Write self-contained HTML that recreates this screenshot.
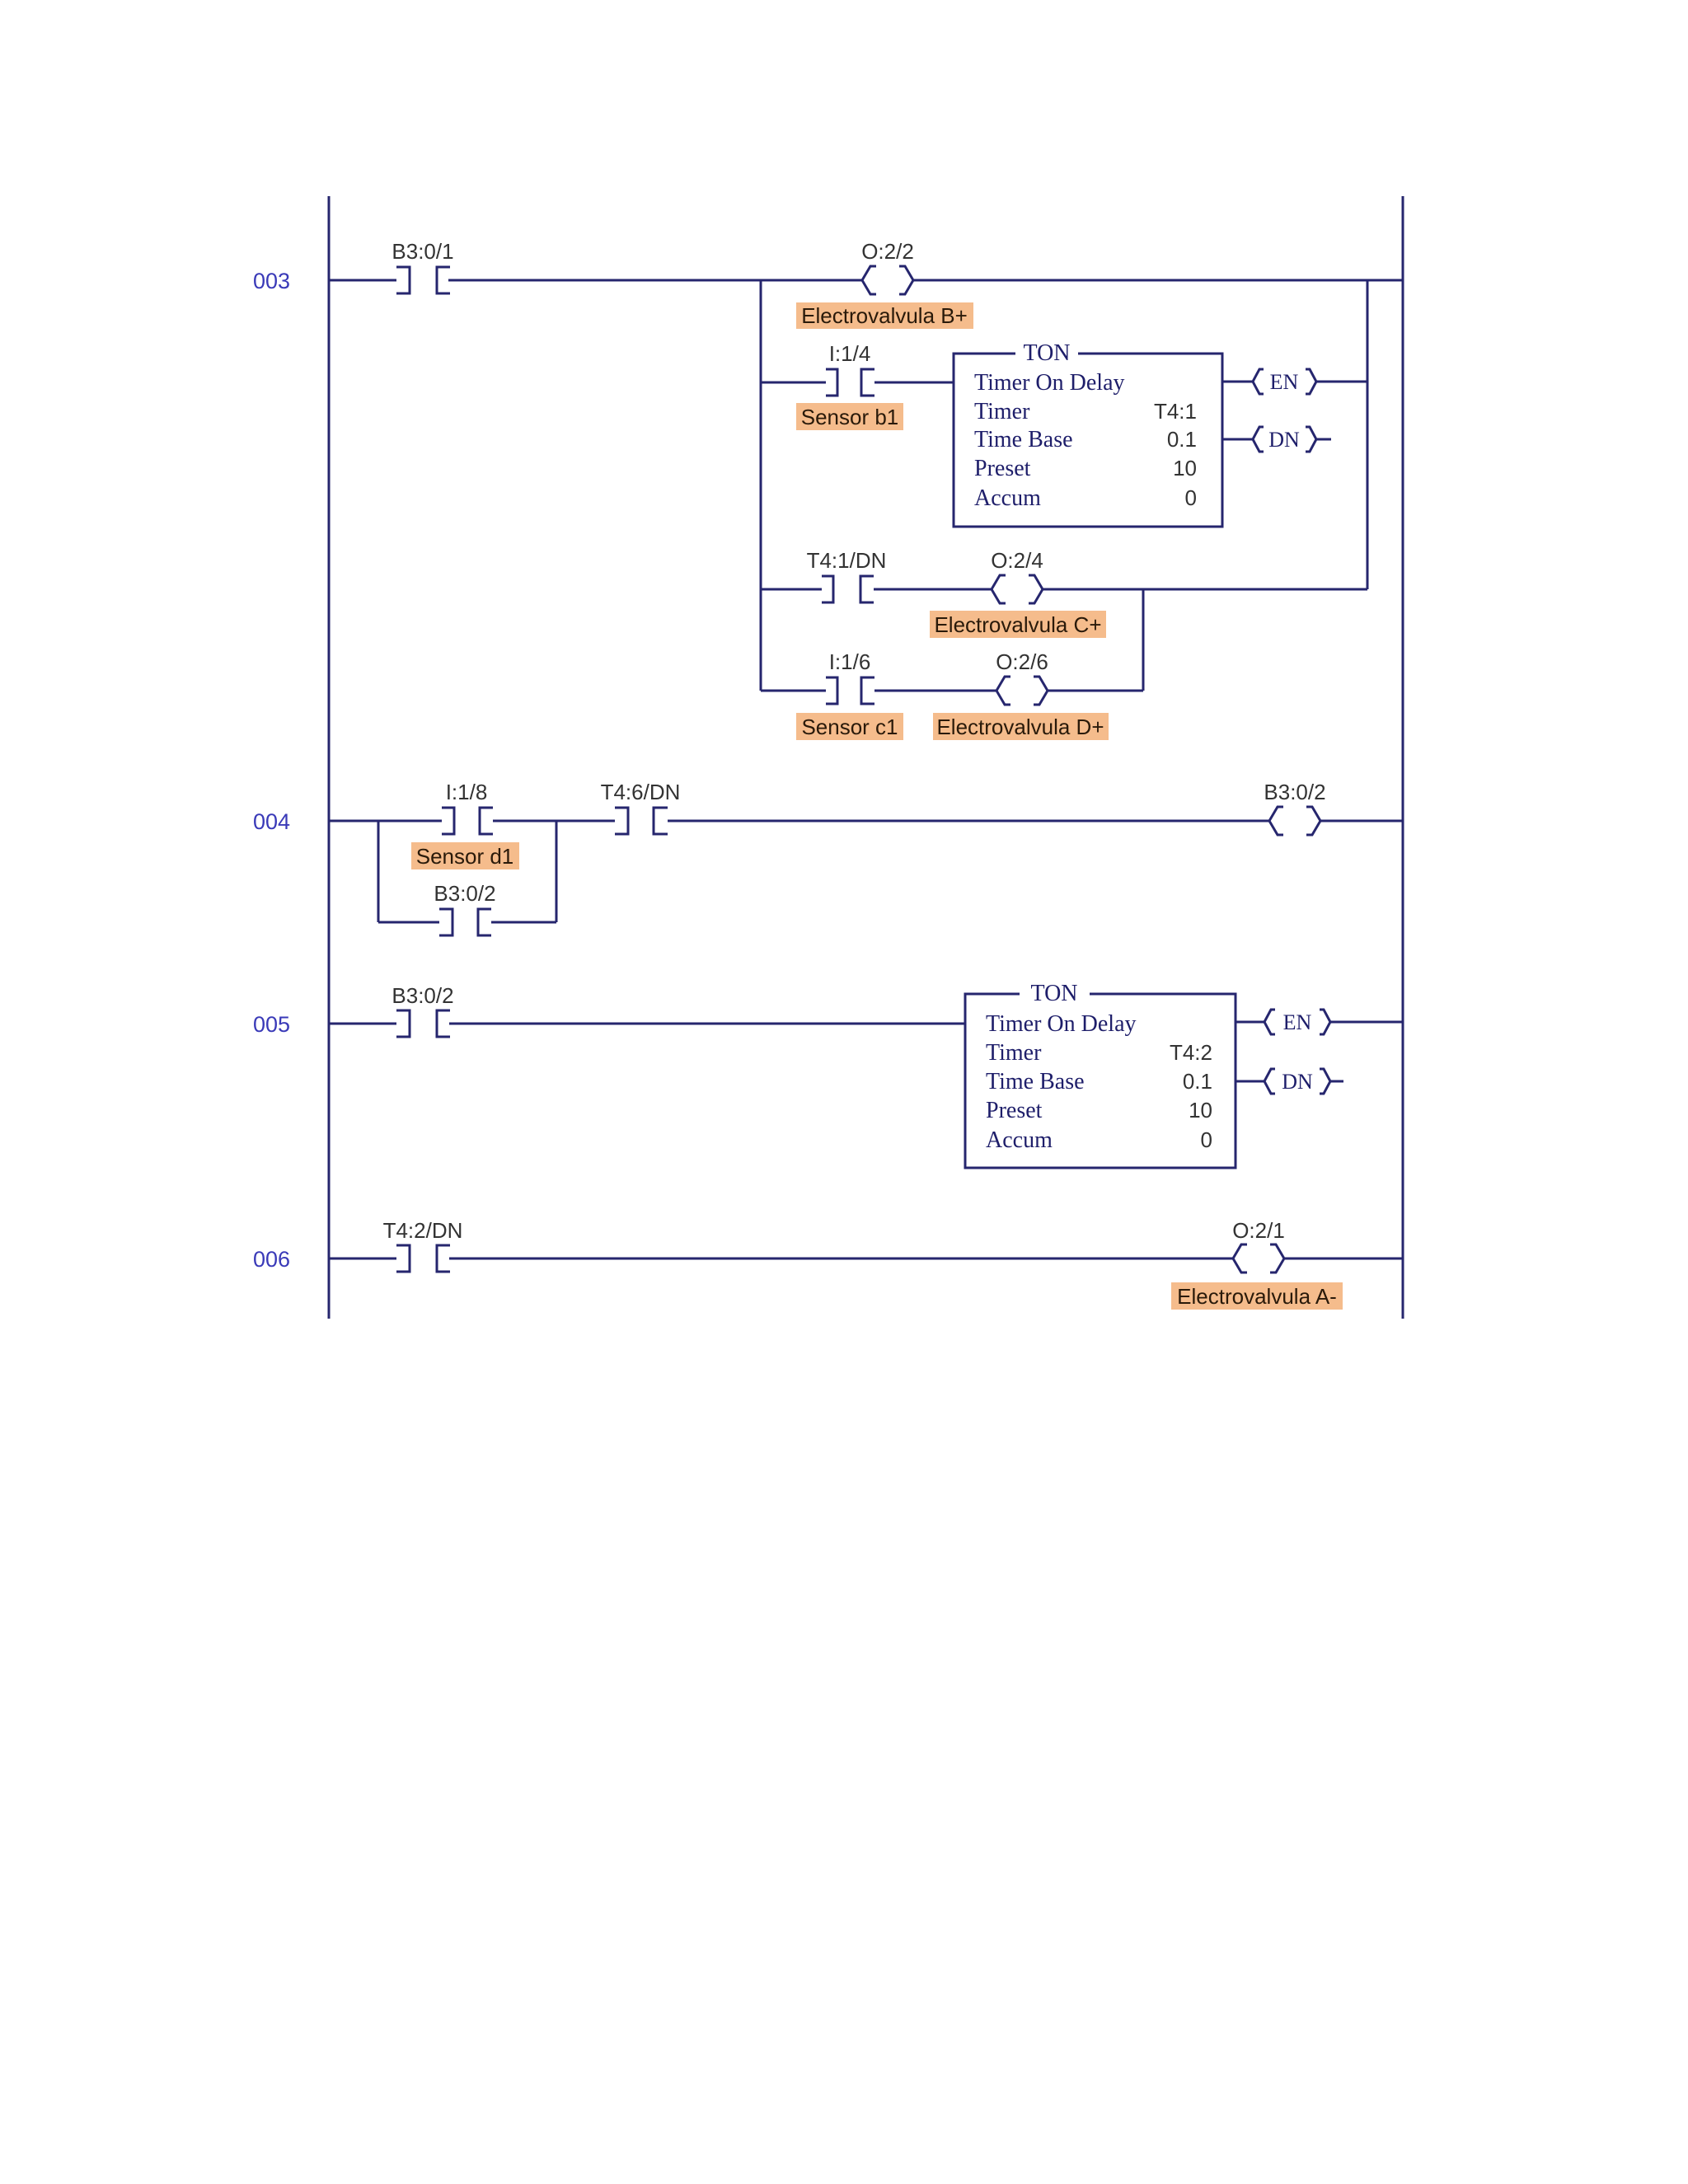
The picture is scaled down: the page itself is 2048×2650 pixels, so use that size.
<!DOCTYPE html>
<html><head><meta charset="utf-8"><style>
html,body{margin:0;padding:0;background:#fff;}
svg{display:block;}
.l{fill:none;stroke:#26266e;stroke-width:3;}
.t{font-family:"Liberation Sans",sans-serif;font-size:26px;fill:#333;text-anchor:middle;}
.n{font-family:"Liberation Sans",sans-serif;font-size:27px;fill:#3a3ab8;}
.s{font-family:"Liberation Serif",serif;font-size:28px;fill:#1e1e6a;}
.v{font-family:"Liberation Sans",sans-serif;font-size:26px;fill:#333;text-anchor:end;}
.o{fill:#f5bc8c;}
.ot{font-family:"Liberation Sans",sans-serif;font-size:26px;fill:#2a1a0a;text-anchor:middle;}
.c{font-family:"Liberation Serif",serif;font-size:26px;fill:#1e1e6a;text-anchor:middle;}
</style></head><body>
<svg width="2048" height="2650" viewBox="0 0 2048 2650" xmlns="http://www.w3.org/2000/svg">
<!-- rails -->
<path class="l" d="M399 238V1600M1702 238V1600"/>
<!-- rung numbers -->
<text class="n" x="307" y="350">003</text>
<text class="n" x="307" y="1006">004</text>
<text class="n" x="307" y="1252">005</text>
<text class="n" x="307" y="1537">006</text>

<!-- wires -->
<path class="l" d="M399 340H481M544 340H1046M1108 340H1702M923 340V838M1659 340V715
M923 464H1002M1061 464H1157
M1483 463H1520M1597 463H1659M1483 533H1520M1597 533H1615
M923 715H997M1060 715H1203M1265 715H1659M1387 715V838
M923 838H1002M1061 838H1209M1271 838H1387
M399 996H536M598 996H746M810 996H1540M1603 996H1702M459 996V1119M675 996V1119M459 1119H533M596 1119H675
M399 1242H481M545 1242H1171
M1499 1240H1534M1614 1240H1702M1499 1312H1534M1614 1312H1630
M399 1527H481M545 1527H1496M1559 1527H1702"/>

<!-- TON boxes -->
<path class="l" d="M1232 429H1157V639H1483V429H1308"/>
<path class="l" d="M1237 1206H1171V1417H1499V1206H1322"/>

<!-- contacts -->
<g class="l">
<path d="M481 324H497V356H481M546 324H530V356H546"/>
<path d="M1002 448H1016V480H1002M1061 448H1045V480H1061"/>
<path d="M997 699H1011V731H997M1060 699H1044V731H1060"/>
<path d="M1002 822H1016V854H1002M1061 822H1045V854H1061"/>
<path d="M536 980H551V1012H536M598 980H582V1012H598"/>
<path d="M533 1103H549V1135H533M596 1103H580V1135H596"/>
<path d="M746 980H762V1012H746M810 980H793V1012H810"/>
<path d="M481 1226H497V1258H481M546 1226H530V1258H546"/>
<path d="M481 1511H497V1543H481M546 1511H530V1543H546"/>
</g>

<!-- coils -->
<g class="l">
<path d="M1063 323H1056L1046 340L1056 357H1063M1091 323H1098L1108 340L1098 357H1091"/>
<path d="M1220 698H1213L1203 715L1213 732H1220M1248 698H1255L1265 715L1255 732H1248"/>
<path d="M1226 821H1219L1209 838L1219 855H1226M1254 821H1261L1271 838L1261 855H1254"/>
<path d="M1557 979H1550L1540 996L1550 1013H1557M1585 979H1592L1602 996L1592 1013H1585"/>
<path d="M1513 1510H1506L1496 1527L1506 1544H1513M1541 1510H1548L1558 1527L1548 1544H1541"/>
<path d="M1533 448H1528L1520 463L1528 478H1533M1584 448H1589L1597 463L1589 478H1584"/>
<path d="M1533 518H1528L1520 533L1528 548H1533M1584 518H1589L1597 533L1589 548H1584"/>
<path d="M1547 1225H1542L1534 1240L1542 1255H1547M1601 1225H1606L1614 1240L1606 1255H1601"/>
<path d="M1547 1297H1542L1534 1312L1542 1327H1547M1601 1297H1606L1614 1312L1606 1327H1601"/>
</g>
<text class="c" x="1558" y="472">EN</text>
<text class="c" x="1558" y="542">DN</text>
<text class="c" x="1574" y="1249">EN</text>
<text class="c" x="1574" y="1321">DN</text>

<!-- address labels -->
<text class="t" x="513" y="314">B3:0/1</text>
<text class="t" x="1077" y="314">O:2/2</text>
<text class="t" x="1031" y="438">I:1/4</text>
<text class="t" x="1027" y="689">T4:1/DN</text>
<text class="t" x="1234" y="689">O:2/4</text>
<text class="t" x="1031" y="812">I:1/6</text>
<text class="t" x="1240" y="812">O:2/6</text>
<text class="t" x="566" y="970">I:1/8</text>
<text class="t" x="777" y="970">T4:6/DN</text>
<text class="t" x="1571" y="970">B3:0/2</text>
<text class="t" x="564" y="1093">B3:0/2</text>
<text class="t" x="513" y="1217">B3:0/2</text>
<text class="t" x="513" y="1502">T4:2/DN</text>
<text class="t" x="1527" y="1502">O:2/1</text>

<!-- orange labels -->
<rect class="o" x="966" y="367" width="215" height="32"/>
<text class="ot" x="1073" y="392">Electrovalvula B+</text>
<rect class="o" x="966" y="489" width="130" height="33"/>
<text class="ot" x="1031" y="515">Sensor b1</text>
<rect class="o" x="1128" y="741" width="214" height="33"/>
<text class="ot" x="1235" y="767">Electrovalvula C+</text>
<rect class="o" x="966" y="865" width="130" height="33"/>
<text class="ot" x="1031" y="891">Sensor c1</text>
<rect class="o" x="1132" y="865" width="213" height="33"/>
<text class="ot" x="1238" y="891">Electrovalvula D+</text>
<rect class="o" x="499" y="1022" width="131" height="33"/>
<text class="ot" x="564" y="1048">Sensor d1</text>
<rect class="o" x="1421" y="1556" width="208" height="33"/>
<text class="ot" x="1525" y="1582">Electrovalvula A-</text>

<!-- TON 1 text -->
<text class="s" x="1270" y="437" text-anchor="middle">TON</text>
<text class="s" x="1182" y="473">Timer On Delay</text>
<text class="s" x="1182" y="508">Timer</text>
<text class="s" x="1182" y="542">Time Base</text>
<text class="s" x="1182" y="577">Preset</text>
<text class="s" x="1182" y="613">Accum</text>
<text class="v" x="1452" y="508">T4:1</text>
<text class="v" x="1452" y="542">0.1</text>
<text class="v" x="1452" y="577">10</text>
<text class="v" x="1452" y="613">0</text>

<!-- TON 2 text -->
<text class="s" x="1279" y="1214" text-anchor="middle">TON</text>
<text class="s" x="1196" y="1251">Timer On Delay</text>
<text class="s" x="1196" y="1286">Timer</text>
<text class="s" x="1196" y="1321">Time Base</text>
<text class="s" x="1196" y="1356">Preset</text>
<text class="s" x="1196" y="1392">Accum</text>
<text class="v" x="1471" y="1286">T4:2</text>
<text class="v" x="1471" y="1321">0.1</text>
<text class="v" x="1471" y="1356">10</text>
<text class="v" x="1471" y="1392">0</text>
</svg>
</body></html>
